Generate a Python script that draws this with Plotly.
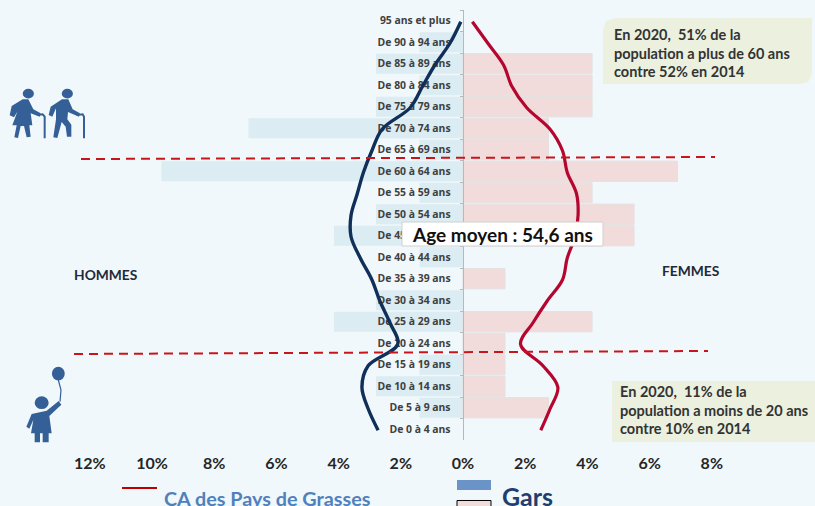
import plotly.graph_objects as go

ages = ["95 ans et plus", "De 90 à 94 ans", "De 85 à 89 ans", "De 80 à 84 ans", "De 75 à 79 ans",
        "De 70 à 74 ans", "De 65 à 69 ans", "De 60 à 64 ans", "De 55 à 59 ans", "De 50 à 54 ans",
        "De 45 à 49 ans", "De 40 à 44 ans", "De 35 à 39 ans", "De 30 à 34 ans", "De 25 à 29 ans",
        "De 20 à 24 ans", "De 15 à 19 ans", "De 10 à 14 ans", "De 5 à 9 ans", "De 0 à 4 ans"]
gars = [0, -1.4, -2.8, -1.4, -2.8, -6.9, -1.4, -9.7, -1.4, -2.8, -4.15, -1.4, 0, -2.8, -4.15, 0, -1.4, -2.8, -1.4, 0]
filles = [0, 0, 4.15, 4.15, 4.15, 2.75, 2.75, 6.9, 4.15, 5.5, 5.5, 0, 1.35, 0, 4.15, 1.35, 1.35, 1.35, 2.75, 0]
ca_hommes = [-0.07, -0.42, -0.9, -1.3, -1.7, -2.6, -2.93, -3.2, -3.4, -3.6, -3.6, -3.3, -2.93, -2.67, -2.35, -2.1, -3.05, -3.25, -3.05, -2.73]
ca_femmes = [0.3, 0.8, 1.3, 1.57, 2.05, 2.8, 3.2, 3.35, 3.65, 3.7, 3.6, 3.35, 3.2, 2.7, 2.25, 1.85, 2.57, 3.05, 2.8, 2.5]
x_ticks = [-12, -10, -8, -6, -4, -2, 0, 2, 4, 6, 8]
x_labels = ["12%", "10%", "8%", "6%", "4%", "2%", "0%", "2%", "4%", "6%", "8%"]

W, H = 815, 506
FONT = "Lato"
BG = "#F1F8FB"
ICON = "#356097"
PXU = 31.1
X0 = 463


def px(x):
    return x / W


def py(y):
    return 1 - y / H


def poly(pts, close=True, scale=1.0, dx=0.0, dy=0.0):
    s = "M " + " L ".join(f"{px(a * scale + dx):.5f},{py(b * scale + dy):.5f}" for a, b in pts)
    return s + (" Z" if close else "")


shapes = []
annotations = []


def add_poly(pts, fill=ICON, close=True, width=0, color=None, scale=1.0, dx=0.0, dy=0.0, dash=None):
    shapes.append(dict(type="path", xref="paper", yref="paper", layer="above",
                       path=poly(pts, close, scale, dx, dy),
                       fillcolor=fill if close else "rgba(0,0,0,0)",
                       line=dict(width=width, color=color or fill, dash=dash)))


def add_ell(cx, cy, rx, ry, fill=ICON):
    shapes.append(dict(type="circle", xref="paper", yref="paper", layer="above",
                       x0=px(cx - rx), x1=px(cx + rx), y0=py(cy + ry), y1=py(cy - ry),
                       fillcolor=fill, line=dict(width=0)))


def add_text(x, y, t, size, color, anchor="left", bold=True):
    annotations.append(dict(xref="paper", yref="paper", x=px(x), y=py(y), text=f"<b>{t}</b>" if bold else t,
                            showarrow=False, xanchor=anchor, yanchor="middle", align="left",
                            font=dict(family=FONT, size=size, color=color)))


# seniors icon (drawn in 3x crop coordinates)
s3 = 1 / 3
add_ell(85 / 3, 281 / 3, 5.6, 4.8)
add_poly([(68, 298), (85, 298), (100, 328), (122, 340), (119, 350), (92, 340), (97, 376), (88, 376), (92, 410), (80, 412),
          (72, 378), (62, 378), (54, 414), (43, 412), (50, 376), (37, 376), (52, 335), (42, 352), (29, 346), (35, 318)], scale=s3)
add_poly([(112, 345), (128, 343), (134, 350), (134, 415)], close=False, fill=ICON, width=2, scale=s3)
add_ell(202 / 3, 281 / 3, 5.6, 4.8)
add_poly([(186, 298), (205, 298), (218, 328), (240, 340), (237, 350), (204, 336), (202, 358), (214, 374), (214, 410), (201, 410),
          (197, 380), (185, 366), (172, 414), (160, 412), (168, 358), (168, 325), (157, 350), (146, 345), (152, 320)], scale=s3)
add_poly([(230, 345), (248, 343), (252, 350), (252, 415)], close=False, fill=ICON, width=2, scale=s3)

# child with balloon icon
add_ell(175 / 3, 340 + 101 / 3, 6.4, 6.8)
add_poly([(175, 120), (183, 150), (180, 185)], close=False, width=1.2, scale=s3, dy=340)
add_ell(125 / 3, 340 + 188 / 3, 7, 6.4)
add_poly([(176, 183), (184, 194), (148, 228), (155, 280), (146, 280), (146, 307), (128, 307), (128, 280), (120, 280), (120, 307),
          (104, 307), (104, 280), (93, 280), (100, 240), (88, 266), (79, 260), (95, 222), (140, 212)], scale=s3, dy=340)

# callouts
add_poly([(603, 84), (603, 30), (606, 21), (615, 18), (812, 18), (812, 74), (808, 82), (800, 84)], fill="#EBF0DF")
add_poly([(612, 381), (815, 381), (815, 442), (612, 442)], fill="#EBF0DF")
for i, t in enumerate(["En 2020,  51% de la", "population a plus de 60 ans", "contre 52% en 2014"]):
    add_text(611.5, 34.5 + i * 18.7, t, 14.5, "#333333")
for i, t in enumerate(["En 2020,  11% de la", "population a moins de 20 ans", "contre 10% en 2014"]):
    add_text(617.5, 391.5 + i * 18.7, t, 14.5, "#333333")

# dashed limits
add_poly([(81, 159), (715, 157)], close=False, fill="#C9141C", width=2, dash="9px,6px")
add_poly([(74, 354), (708, 351)], close=False, fill="#C9141C", width=2, dash="9px,6px")

# average age box
add_poly([(402, 222), (603, 222), (603, 246), (402, 246)], fill="#FFFFFF", width=1, color="#D0D0D0")
add_text(502, 234.5, "Age moyen : 54,6 ans", 19, "#111111", anchor="center")

add_text(71.5, 274, "HOMMES", 13.8, "#1F2A3A")
add_text(659.5, 270, "FEMMES", 13.8, "#1F2A3A")

# legend
add_poly([(122, 488), (157, 488)], close=False, fill="#C00000", width=2)
add_text(161.5, 497.5, "CA des Pays de Grasses", 19.8, "#4F81BD")
add_poly([(457, 480), (491, 480), (491, 490), (457, 490)], fill="#6A94C8")
add_poly([(457, 500.5), (491, 500.5), (491, 510), (457, 510)], fill="#F2DCDB", width=1, color="#000000")
add_text(499.5, 496, "Gars", 25, "#1F3F6E")

fig = go.Figure()
fig.add_bar(y=ages, x=[v or None for v in gars], orientation="h", marker=dict(color="#DBECF3", line=dict(width=0)))
fig.add_bar(y=ages, x=[v or None for v in filles], orientation="h", marker=dict(color="#F2DCDB", line=dict(width=1, color="#E4E0E0")))
fig.add_scatter(y=ages, x=[-0.4] * len(ages), yaxis="y2", mode="text", text=ages, textposition="middle left", cliponaxis=False,
                textfont=dict(family="Open Sans", size=10.4, color="#404040", weight="bold"))
fig.add_scatter(y=ages, x=ca_hommes, yaxis="y2", mode="lines", line=dict(color="#10305A", width=3.4, shape="spline", smoothing=1))
fig.add_scatter(y=ages, x=ca_femmes, yaxis="y2", mode="lines", line=dict(color="#B5062F", width=3.2, shape="spline", smoothing=1))

fig.update_layout(
    width=W, height=H, autosize=False, margin=dict(l=0, r=0, t=0, b=0),
    paper_bgcolor=BG, plot_bgcolor="rgba(0,0,0,0)", showlegend=False,
    barmode="overlay", bargap=0.06, shapes=shapes, annotations=annotations,
    xaxis=dict(range=[-X0 / PXU, (W - X0) / PXU], domain=[0, 1], tickvals=x_ticks, ticktext=x_labels,
               showgrid=False, zeroline=False, showline=False, ticks="", ticklabelstandoff=12,
               tickfont=dict(family=FONT, size=16, color="#262626", weight="bold")),
    yaxis=dict(type="category", categoryorder="array", categoryarray=ages, range=[19.5, -0.5],
               domain=[(H - 440) / H, (H - 10) / H], showticklabels=False, showgrid=False, zeroline=False,
               showline=True, linecolor="#B8B8B8", linewidth=1, ticks="outside", ticklen=3, tickcolor="#B8B8B8",
               tickson="boundaries", anchor="free", position=X0 / W),
    yaxis2=dict(type="category", categoryorder="array", categoryarray=ages, range=[19.5, -0.5],
                domain=[(H - 441) / H, (H - 11) / H], visible=False, anchor="free", position=X0 / W),
)
fig.write_html("out.html", config=dict(displayModeBar=False),
               post_script="document.body.style.margin='0';document.body.style.overflow='hidden';")
